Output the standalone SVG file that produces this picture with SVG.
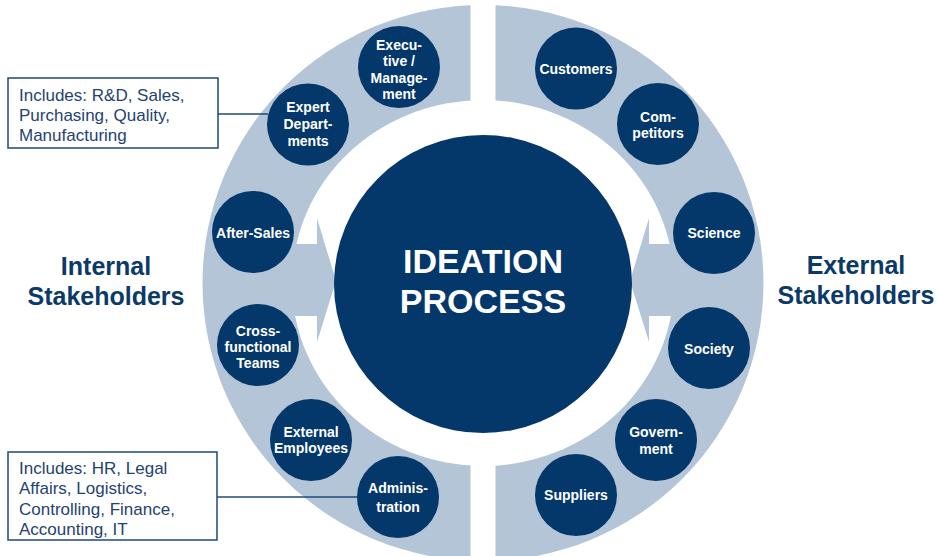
<svg xmlns="http://www.w3.org/2000/svg" width="938" height="556" viewBox="0 0 938 556">
  <style>
    .ring { fill: #b3c5d6; }
    .gap { fill: #ffffff; }
    .node { fill: #04376a; }
    .nt { font-family: "Liberation Sans", Arial, sans-serif; font-size: 14px; font-weight: bold; fill: #ffffff; text-anchor: middle; }
    .title { font-family: "Liberation Sans", Arial, sans-serif; font-size: 34px; font-weight: bold; fill: #ffffff; text-anchor: middle; }
    .side { font-family: "Liberation Sans", Arial, sans-serif; font-size: 25px; font-weight: bold; fill: #0b3a68; text-anchor: middle; }
    .box { fill: #ffffff; stroke: #1f4a78; stroke-width: 1.5; }
    .bt { font-family: "Liberation Sans", Arial, sans-serif; font-size: 17px; fill: #1f4370; }
    .conn { stroke: #1f4a78; stroke-width: 1.5; fill: none; }
  </style>
  <rect width="938" height="556" fill="#ffffff"/>

  <g id="ring">
    <path class="ring" fill-rule="evenodd" d="M 202.5 283 A 280.5 278 0 1 0 763.5 283 A 280.5 278 0 1 0 202.5 283 Z M 292 283 A 191 183 0 1 0 674 283 A 191 183 0 1 0 292 283 Z"/>
    <rect class="gap" x="470.5" y="0" width="25" height="102"/>
    <rect class="gap" x="470.5" y="462" width="25" height="94"/>
    <polygon class="ring" points="288,244 317,244 317,218 336,281 317,342 317,316 288,316"/>
    <polygon class="ring" points="678,244 649,244 649,218 630,281 649,342 649,316 678,316"/>
  </g>

  <g id="center">
    <circle class="node" cx="483" cy="284" r="149"/>
    <text class="title" x="483" y="273">IDEATION</text>
    <text class="title" x="483" y="313">PROCESS</text>
  </g>

  <g id="connectors">
    <line class="conn" x1="218" y1="114" x2="268" y2="114"/>
    <line class="conn" x1="217" y1="497" x2="358" y2="497"/>
  </g>

  <g id="node-executive">
    <circle class="node" cx="399" cy="67" r="41"/>
    <text class="nt" x="399" y="50">Execu-</text>
    <text class="nt" x="399" y="66.3">tive /</text>
    <text class="nt" x="399" y="82.6">Manage-</text>
    <text class="nt" x="399" y="98.9">ment</text>
  </g>
  <g id="node-expert">
    <circle class="node" cx="308" cy="124.5" r="41"/>
    <text class="nt" x="308" y="112.3">Expert</text>
    <text class="nt" x="308" y="129">Depart-</text>
    <text class="nt" x="308" y="145.7">ments</text>
  </g>
  <g id="node-aftersales">
    <circle class="node" cx="253" cy="232" r="41"/>
    <text class="nt" x="253" y="237.5">After-Sales</text>
  </g>
  <g id="node-crossfunctional">
    <circle class="node" cx="258" cy="345" r="41"/>
    <text class="nt" x="258" y="336">Cross-</text>
    <text class="nt" x="258" y="352">functional</text>
    <text class="nt" x="258" y="368">Teams</text>
  </g>
  <g id="node-external-employees">
    <circle class="node" cx="311" cy="440" r="41"/>
    <text class="nt" x="311" y="436.7">External</text>
    <text class="nt" x="311" y="453.3">Employees</text>
  </g>
  <g id="node-administration">
    <circle class="node" cx="398" cy="497" r="41"/>
    <text class="nt" x="398" y="493.3">Adminis-</text>
    <text class="nt" x="398" y="511.7">tration</text>
  </g>

  <g id="node-customers">
    <circle class="node" cx="576" cy="68.5" r="41"/>
    <text class="nt" x="576" y="74">Customers</text>
  </g>
  <g id="node-competitors">
    <circle class="node" cx="658" cy="124" r="41"/>
    <text class="nt" x="658" y="121.7">Com-</text>
    <text class="nt" x="658" y="137.7">petitors</text>
  </g>
  <g id="node-science">
    <circle class="node" cx="714" cy="233" r="41"/>
    <text class="nt" x="714" y="237.5">Science</text>
  </g>
  <g id="node-society">
    <circle class="node" cx="709" cy="348" r="41"/>
    <text class="nt" x="709" y="353.5">Society</text>
  </g>
  <g id="node-government">
    <circle class="node" cx="656" cy="440" r="41"/>
    <text class="nt" x="656" y="437.3">Govern-</text>
    <text class="nt" x="656" y="454">ment</text>
  </g>
  <g id="node-suppliers">
    <circle class="node" cx="576" cy="495" r="41"/>
    <text class="nt" x="576" y="500">Suppliers</text>
  </g>

  <g id="label-internal">
    <text class="side" x="106" y="275">Internal</text>
    <text class="side" x="106" y="305">Stakeholders</text>
  </g>
  <g id="label-external">
    <text class="side" x="856" y="274">External</text>
    <text class="side" x="856" y="304">Stakeholders</text>
  </g>

  <g id="box-expert">
    <rect class="box" x="8" y="78" width="210" height="70"/>
    <text class="bt" x="19" y="100.5">Includes: R&amp;D, Sales,</text>
    <text class="bt" x="19" y="120.5">Purchasing, Quality,</text>
    <text class="bt" x="19" y="140.5">Manufacturing</text>
  </g>
  <g id="box-administration">
    <rect class="box" x="8" y="452" width="209" height="88"/>
    <text class="bt" x="19" y="473.5">Includes: HR, Legal</text>
    <text class="bt" x="19" y="494">Affairs, Logistics,</text>
    <text class="bt" x="19" y="514.5">Controlling, Finance,</text>
    <text class="bt" x="19" y="534.5">Accounting, IT</text>
  </g>
</svg>
